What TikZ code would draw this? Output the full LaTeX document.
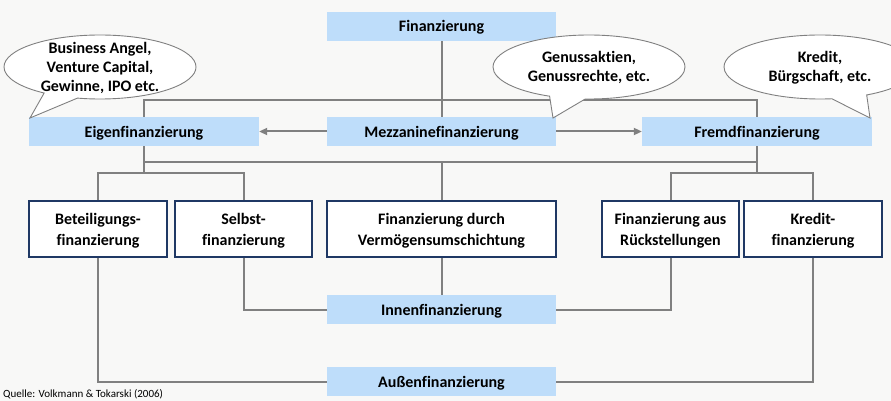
\documentclass[tikz,border=0pt]{standalone}
\usepackage{fontspec}
\setmainfont{Carlito}[Ligatures=NoCommon]
\usetikzlibrary{arrows.meta,shapes.callouts}
\pgfdeclarelayer{bg}
\pgfdeclarelayer{lines}
\pgfsetlayers{bg,lines,main}
\definecolor{bgc}{RGB}{248,248,247}
\definecolor{lblue}{RGB}{190,221,250}
\definecolor{navy}{RGB}{31,56,100}
\definecolor{lgray}{RGB}{128,128,128}
\tikzset{
  bluebox/.style={fill=lblue,draw=none,inner sep=0pt,minimum width=229pt,minimum height=29pt,
    text height=12pt,text depth=1pt,
    font=\fontsize{16}{19}\selectfont\bfseries,text=black},
  whitebox/.style={fill=white,draw=navy,line width=1.2pt,inner sep=0pt,minimum width=137pt,minimum height=56pt,
    text height=33pt,text depth=1pt,
    align=center,font=\fontsize{16}{21}\selectfont\bfseries,text=black},
  conn/.style={draw=lgray,line width=2pt},
  arr/.style={conn,-{Triangle[length=8pt,width=7pt]}},
  bubble/.style={ellipse callout,fill=white,draw=lgray,line width=0.9pt,inner sep=0pt,
    minimum width=192pt,minimum height=64pt,callout pointer arc=22},
  bubtext/.style={inner sep=0pt,text depth=1pt,
    align=center,font=\fontsize{16}{19}\selectfont\bfseries,text=black},
}
\begin{document}
\begin{tikzpicture}[x=1pt,y=-1pt]
\begin{pgfonlayer}{bg}
\fill[bgc] (0,0) rectangle (891,401);
\end{pgfonlayer}
\useasboundingbox (0,0) rectangle (891,401);
\clip (0,0) rectangle (891,401);
% blue boxes
\node[bluebox] (fin) at (441.5,26.5) {Finanzierung};
\node[bluebox,minimum width=230pt] (eigen) at (144,131.5) {Eigenfinanzierung};
\node[bluebox] (mezz) at (441.5,131.5) {Mezzaninefinanzierung};
\node[bluebox,minimum width=230pt] (fremd) at (757,131.5) {Fremdfinanzierung};
\node[bluebox] (innen) at (441.5,309.5) {Innenfinanzierung};
\node[bluebox] (aussen) at (441.5,381.5) {Außenfinanzierung};
% white boxes
\node[whitebox,minimum width=138pt] (beteil) at (98,229) {Beteiligungs-\\finanzierung};
\node[whitebox] (selbst) at (243.5,229) {Selbst-\\finanzierung};
\node[whitebox,minimum width=229pt] (verm) at (441.5,229) {Finanzierung durch\\Vermögensumschichtung};
\node[whitebox] (rueck) at (670.5,229) {Finanzierung aus\\Rückstellungen};
\node[whitebox,minimum width=138pt] (kredit) at (813,229) {Kredit-\\finanzierung};
% coordinates
\coordinate (tb) at (441.5,100);
\coordinate (bb) at (441.5,162);
\coordinate (eb) at (144,173);
\coordinate (fb) at (757,173);
\coordinate (p1) at (30,118);
\coordinate (p2) at (553,118);
\coordinate (p3) at (870,118);
% connectors
\begin{pgfonlayer}{lines}
\draw[conn] (fin) -- (mezz);
\draw[conn] (eigen.north) |- (tb) -| (fremd.north);
\draw[conn] (eigen.south) |- (bb) -| (fremd.south);
\draw[conn] (bb) -- (verm.north);
\draw[conn] (eigen.south) -- (eb);
\draw[conn] (beteil.north) |- (eb) -| (selbst.north);
\draw[conn] (fremd.south) -- (fb);
\draw[conn] (rueck.north) |- (fb) -| (kredit.north);
\draw[conn] (selbst.south) |- (innen.west);
\draw[conn] (verm.south) -- (innen.north);
\draw[conn] (rueck.south) |- (innen.east);
\draw[conn] (beteil.south) |- (aussen.west);
\draw[conn] (kredit.south) |- (aussen.east);
\end{pgfonlayer}
\draw[arr] (mezz.west) -- (eigen.east);
\draw[arr] (mezz.east) -- (fremd.west);
% callouts
\node[bubble,callout absolute pointer={(p1)},
  label={[bubtext,text height=51pt]center:{Business Angel,\\Venture Capital,\\Gewinne, IPO etc.}}] (c1) at (100,67) {};
\node[bubble,callout absolute pointer={(p2)},
  label={[bubtext,text height=31pt]center:{Genussaktien,\\Genussrechte, etc.}}] (c2) at (589,67) {};
\node[bubble,callout absolute pointer={(p3)},
  label={[bubtext,text height=31pt]center:{Kredit,\\Bürgschaft, etc.}}] (c3) at (820,67) {};
% source
\node[anchor=west,inner sep=0pt,font=\fontsize{11}{13}\selectfont,text=black] (src) at (3,394) {Quelle: Volkmann \& Tokarski (2006)};
\end{tikzpicture}
\end{document}
